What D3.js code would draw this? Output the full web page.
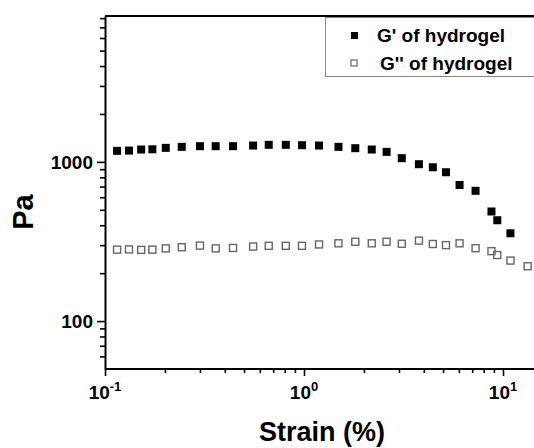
<!DOCTYPE html>
<html lang="en">
  <head>
    <meta charset="UTF-8" />
    <title>Strain sweep - G' and G'' of hydrogel</title>
    <script src="https://d3js.org/d3.v7.min.js"></script>
    <style>
      body { margin: 0; background: #fff; }
      text { font-family: "Liberation Sans", Arial, sans-serif; font-weight: bold; fill: #000; }
    </style>
  </head>
  <body>
    <svg id="chart" width="534" height="448"></svg>

    <script>
      // strain (%) values
      const strain = [0.115, 0.132, 0.152, 0.173, 0.202, 0.243, 0.30, 0.36, 0.44,
        0.555, 0.665, 0.81, 0.977, 1.19, 1.49, 1.81, 2.19, 2.60, 3.10, 3.78,
        4.44, 5.17, 6.05, 7.28, 8.75, 9.36, 10.9, 13.3];

      // G' (storage modulus), Pa
      const gPrime = [1173, 1178, 1196, 1200, 1225, 1243, 1255, 1255, 1255,
        1267, 1280, 1280, 1273, 1267, 1243, 1219, 1196, 1156, 1055, 967,
        925, 861, 716, 658, 488, 430, 356];

      // G'' (loss modulus), Pa
      const gDouble = [281, 282, 280, 281, 286, 291, 298, 286, 288,
        294, 297, 297, 297, 303, 308, 315, 308, 315, 306, 320,
        305, 300, 308, 287, 275, 260, 240, 221];

      const yMajor = [100, 1000];
      const yMinor = [60, 70, 80, 90, 200, 300, 400, 500, 600, 700, 800, 900,
        2000, 3000, 4000, 5000, 6000, 7000, 8000];
      const xMajor = [0.1, 1, 10];
      const xExp = ["-1", "0", "1"];
      const xMinor = [0.2, 0.3, 0.4, 0.5, 0.6, 0.7, 0.8, 0.9, 2, 3, 4, 5, 6, 7, 8, 9, 20];

      const seriesNames = ["G' of hydrogel", "G'' of hydrogel"];

      const svg = d3.select("#chart");
      const mLeft = 105, mTop = 16, mBottom = 369;

      const x = d3.scaleLog().domain([0.1, 10]).range([mLeft, 503]);
      const y = d3.scaleLog().domain([50, 8250]).range([mBottom, mTop]);

      // y axis (ticks outward)
      const yAxis = svg.append("g")
        .attr("transform", `translate(${mLeft},0)`)
        .call(d3.axisLeft(y).tickValues(yMajor.concat(yMinor)).tickFormat("").tickSizeOuter(0));
      yAxis.select(".domain").attr("stroke", "#000").attr("stroke-width", 2);
      yAxis.selectAll(".tick line")
        .attr("stroke", "#000").attr("stroke-width", 1.6)
        .attr("x2", (d) => yMajor.includes(d) ? -8 : -5);

      yAxis.selectAll(".lbl")
        .data(yMajor)
        .enter()
        .append("text")
        .attr("x", -12)
        .attr("y", (d) => y(d))
        .attr("dy", "0.36em")
        .attr("text-anchor", "end")
        .style("font-size", "19px")
        .text((d) => d);

      // x axis
      const xAxis = svg.append("g")
        .attr("transform", `translate(0,${mBottom})`)
        .call(d3.axisBottom(x).tickValues(xMajor.concat(xMinor)).tickFormat("").tickSizeOuter(0));
      xAxis.select(".domain").attr("stroke", "#000").attr("stroke-width", 2)
        .attr("d", `M${mLeft},0H540`);
      xAxis.selectAll(".tick line")
        .attr("stroke", "#000").attr("stroke-width", 1.6)
        .attr("y2", (d) => xMajor.includes(d) ? 7 : 4);

      const xl = xAxis.selectAll(".lbl")
        .data(xMajor)
        .enter()
        .append("text")
        .attr("x", (d) => x(d))
        .attr("y", 30)
        .attr("text-anchor", "middle")
        .style("font-size", "19px");
      xl.append("tspan").text("10");
      xl.append("tspan")
        .attr("dy", -8)
        .style("font-size", "13px")
        .text((d, i) => xExp[i]);

      // top frame line
      svg.append("line")
        .attr("x1", mLeft).attr("x2", 540)
        .attr("y1", mTop).attr("y2", mTop)
        .attr("stroke", "#000").attr("stroke-width", 2);

      // axis titles
      svg.append("text")
        .attr("transform", "translate(33,212) rotate(-90)")
        .attr("text-anchor", "middle")
        .style("font-size", "29px")
        .text("Pa");

      svg.append("text")
        .attr("x", 322)
        .attr("y", 441)
        .attr("text-anchor", "middle")
        .style("font-size", "27px")
        .text("Strain (%)");

      // G'' open squares
      const s2 = 7;
      svg.append("g")
        .selectAll("rect")
        .data(gDouble)
        .enter()
        .append("rect")
        .attr("x", (d, i) => x(strain[i]) - s2 / 2)
        .attr("y", (d) => y(d) - s2 / 2)
        .attr("width", s2)
        .attr("height", s2)
        .attr("fill", "none")
        .attr("stroke", "#666")
        .attr("stroke-width", 1.4);

      // G' filled squares
      const s1 = 8;
      svg.append("g")
        .selectAll("rect")
        .data(gPrime)
        .enter()
        .append("rect")
        .attr("x", (d, i) => x(strain[i]) - s1 / 2)
        .attr("y", (d) => y(d) - s1 / 2)
        .attr("width", s1)
        .attr("height", s1)
        .attr("fill", "#000");

      // legend
      const legend = svg.append("g");
      legend.append("rect")
        .attr("x", 325.5).attr("y", 17.5)
        .attr("width", 230).attr("height", 59)
        .attr("fill", "#fff")
        .attr("stroke", "#888");

      legend.append("rect")
        .attr("x", 351).attr("y", 32).attr("width", 7).attr("height", 7)
        .attr("fill", "#000");
      legend.append("rect")
        .attr("x", 351).attr("y", 60).attr("width", 6).attr("height", 6)
        .attr("fill", "none").attr("stroke", "#666").attr("stroke-width", 1.2);

      legend.append("text").attr("x", 377).attr("y", 42)
        .style("font-size", "19px").text(seriesNames[0]);
      legend.append("text").attr("x", 380).attr("y", 70)
        .style("font-size", "19px").text(seriesNames[1]);
    </script>
  </body>
</html>
